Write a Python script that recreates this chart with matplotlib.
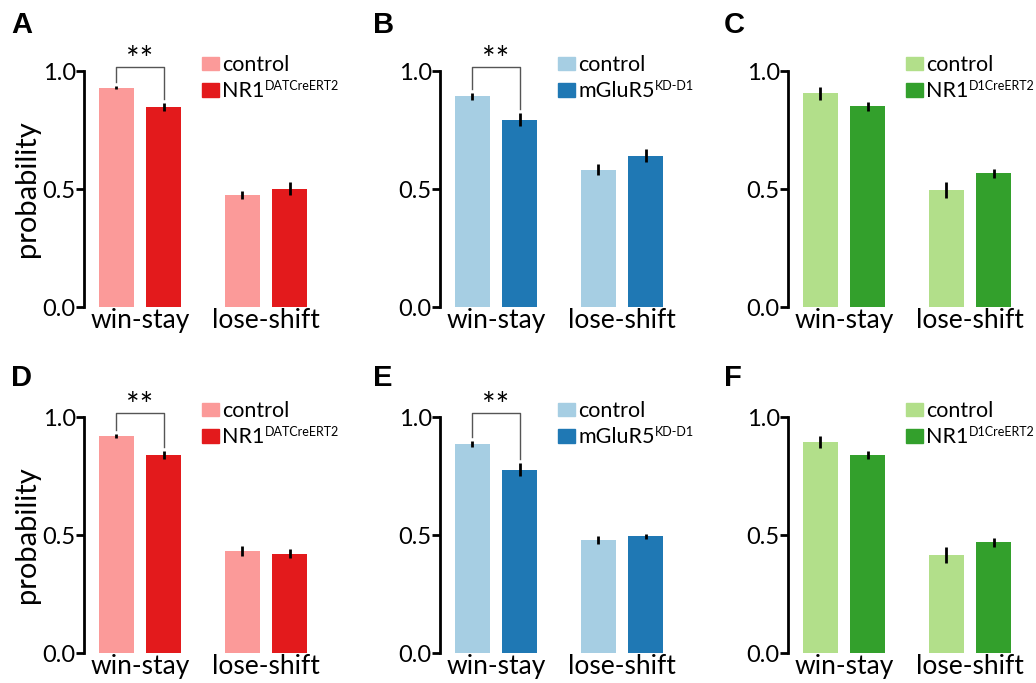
"""
Win-stay / lose-shift probabilities for control and mutant mice (panels A-F).
"""

import matplotlib
matplotlib.use("Agg")
import matplotlib.pyplot as plt
from matplotlib.patches import Patch


# -------------------------------------------------
# Fonts
# -------------------------------------------------

plt.rcParams["font.family"] = ["Lato", "DejaVu Sans"]


# -------------------------------------------------
# Data
# -------------------------------------------------

categories = ["win-stay", "lose-shift"]
panel_letters = ["A", "B", "C", "D", "E", "F"]

mutant_names = ["NR1", "mGluR5", "NR1"]
mutant_supers = ["DATCreERT2", "KD-D1", "D1CreERT2"]

# [win-stay, lose-shift] per panel
control_means = [
    [0.930, 0.474],
    [0.892, 0.582],
    [0.905, 0.495],
    [0.920, 0.432],
    [0.886, 0.479],
    [0.894, 0.417],
]
control_errors = [
    [0.007, 0.018],
    [0.013, 0.023],
    [0.028, 0.035],
    [0.007, 0.020],
    [0.012, 0.017],
    [0.027, 0.034],
]
mutant_means = [
    [0.848, 0.501],
    [0.793, 0.641],
    [0.850, 0.566],
    [0.839, 0.421],
    [0.777, 0.494],
    [0.838, 0.469],
]
mutant_errors = [
    [0.016, 0.028],
    [0.027, 0.027],
    [0.019, 0.019],
    [0.017, 0.020],
    [0.029, 0.012],
    [0.018, 0.018],
]

significant = [True, True, False, True, True, False]

light_colors = ["#FB9A99", "#A6CEE3", "#B2DF8A"]
dark_colors = ["#E31A1C", "#1F78B4", "#33A02C"]


# -------------------------------------------------
# Layout
# -------------------------------------------------

W, H = 1036, 683
fig = plt.figure(figsize=(W / 100, H / 100), dpi=100)

col_left_px = [84, 440, 788]
row_zero_px = [307, 653]
axis_w_px = 227
axis_h_px = 236

group_pos = [0.0, 2.65]
bar_w = 0.74

letter_xy_px = [(11, 33), (373, 33), (724, 33),
                (11, 386), (373, 386), (724, 386)]

legend_texts = []


# -------------------------------------------------
# Draw panels
# -------------------------------------------------

for i in range(6):
    row, col = divmod(i, 3)
    left = col_left_px[col] / W
    bottom = (H - row_zero_px[row]) / H
    ax = fig.add_axes([left, bottom, axis_w_px / W, axis_h_px / H])

    x_ctrl = [g for g in group_pos]
    x_mut = [g + 1 for g in group_pos]

    ax.bar(x_ctrl, control_means[i], width=bar_w, color=light_colors[col])
    ax.bar(x_mut, mutant_means[i], width=bar_w, color=dark_colors[col])
    ax.errorbar(x_ctrl, control_means[i], yerr=control_errors[i],
                fmt="none", ecolor="black", elinewidth=2, capsize=0)
    ax.errorbar(x_mut, mutant_means[i], yerr=mutant_errors[i],
                fmt="none", ecolor="black", elinewidth=2, capsize=0)

    ax.set_xlim(-0.68, 4.1)
    ax.set_ylim(0, 1.0)

    for side in ["top", "right", "bottom"]:
        ax.spines[side].set_visible(False)
    ax.spines["left"].set_linewidth(2)
    ax.spines["left"].set_bounds(0, 1.0)

    ax.set_yticks([0.0, 0.5, 1.0])
    ax.set_yticklabels(["0.0", "0.5", "1.0"])
    ax.tick_params(axis="y", length=6, width=2, labelsize=17, pad=0)

    ax.set_xticks([g + 0.5 for g in group_pos])
    ax.set_xticklabels(categories)
    ax.tick_params(axis="x", length=0, labelsize=19, pad=1)

    if col == 0:
        ax.set_ylabel("probability", fontsize=21, labelpad=2)

    # significance bracket
    if significant[i]:
        top = 1.018
        y_left = control_means[i][0] + control_errors[i][0] + 0.018
        y_right = mutant_means[i][0] + mutant_errors[i][0] + 0.018
        ax.plot([x_ctrl[0], x_ctrl[0], x_mut[0], x_mut[0]],
                [y_left, top, top, y_right],
                color="#555555", linewidth=1, clip_on=False)
        ax.text((x_ctrl[0] + x_mut[0]) / 2, top - 0.04, "**",
                ha="center", va="bottom", fontsize=23, clip_on=False)

    # legend (superscript added after layout)
    handles = [Patch(color=light_colors[col]), Patch(color=dark_colors[col])]
    leg = ax.legend(handles, ["control", mutant_names[col]],
                    loc="upper left", bbox_to_anchor=(0.52, 1.068),
                    frameon=False, fontsize=15.5, handlelength=0.8,
                    handleheight=0.6, handletextpad=0.15, labelspacing=0.3,
                    borderpad=0, borderaxespad=0)
    legend_texts.append((leg.get_texts()[1], mutant_supers[col]))

    # panel letter
    lx, ly = letter_xy_px[i]
    fig.text(lx / W, 1 - ly / H, panel_letters[i], fontsize=21,
             fontweight="bold", family=["Liberation Sans", "DejaVu Sans"],
             ha="left", va="baseline")


# -------------------------------------------------
# Superscripts on the mutant legend labels
# -------------------------------------------------

fig.canvas.draw()
renderer = fig.canvas.get_renderer()

for text, sup in legend_texts:
    bb = text.get_window_extent(renderer)
    fig.text(bb.x1 / W, (bb.y0 + 0.48 * bb.height) / H, sup,
             fontsize=9, ha="left", va="bottom")


# -------------------------------------------------
# Save Figure
# -------------------------------------------------

fig.savefig("out.png", dpi=100)
